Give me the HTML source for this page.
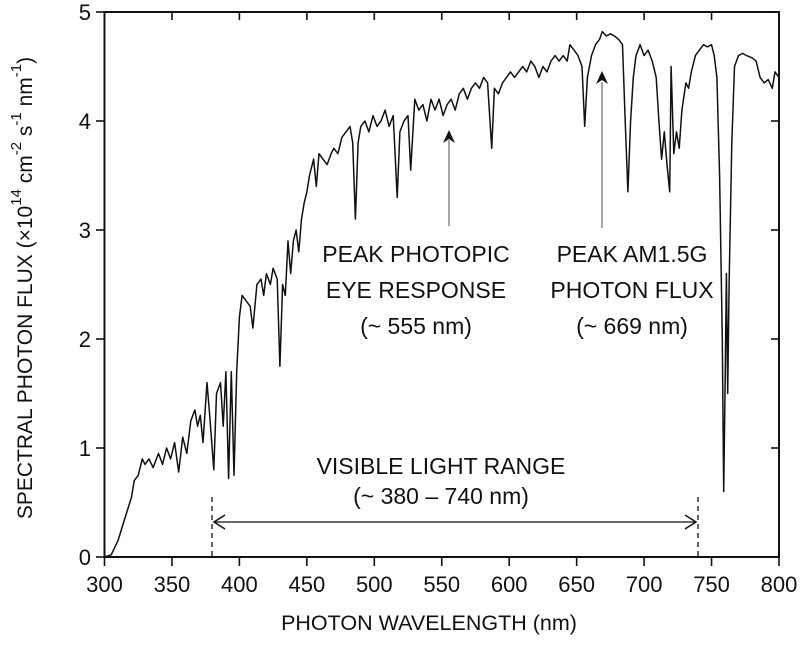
<!DOCTYPE html>
<html><head><meta charset="utf-8"><style>
body{margin:0;background:#fff}
svg text{font-family:"Liberation Sans",Arial,sans-serif;fill:#111}
</style></head><body>
<svg id="s" width="800" height="643" viewBox="0 0 800 643" xmlns="http://www.w3.org/2000/svg">
<rect x="104.5" y="12" width="674.5" height="545" fill="none" stroke="#111" stroke-width="2"/>
<g id="ticks" stroke="#111" stroke-width="1.6"></g>
<g font-size="22" text-anchor="middle" id="xl"></g>
<g font-size="22" text-anchor="end" id="yl"></g>
<text x="429" y="630" font-size="21.5" text-anchor="middle">PHOTON WAVELENGTH (nm)</text>
<text transform="translate(32,288) rotate(-90)" font-size="21" text-anchor="middle">SPECTRAL PHOTON FLUX (×10<tspan dy="-11" font-size="15">14</tspan><tspan dy="11"> cm</tspan><tspan dy="-11" font-size="15">-2</tspan><tspan dy="11"> s</tspan><tspan dy="-11" font-size="15">-1</tspan><tspan dy="11"> nm</tspan><tspan dy="-11" font-size="15">-1</tspan><tspan dy="11">)</tspan></text>
<path id="spec" fill="none" stroke="#111" stroke-width="1.5" stroke-linejoin="round"/>
<g stroke="#888" stroke-width="1.5"><line x1="449" y1="226" x2="449" y2="140"/><line x1="602" y1="228" x2="602" y2="82"/></g>
<polygon points="449,130 443,143 449,139 455,143" fill="#111"/>
<polygon points="602,71 596,84 602,80 608,84" fill="#111"/>
<g font-size="23" text-anchor="middle">
<text x="416" y="262">PEAK PHOTOPIC</text><text x="416" y="298">EYE RESPONSE</text><text x="416" y="334">(~ 555 nm)</text>
<text x="632" y="262">PEAK AM1.5G</text><text x="632" y="298">PHOTON FLUX</text><text x="632" y="334">(~ 669 nm)</text>
<text x="441" y="474">VISIBLE LIGHT RANGE</text><text x="441" y="504">(~ 380 – 740 nm)</text>
</g>
<g stroke="#111" stroke-width="1.3" stroke-dasharray="5,4"><line x1="212" y1="497" x2="212" y2="557"/><line x1="698" y1="497" x2="698" y2="557"/></g>
<line x1="214" y1="522" x2="696" y2="522" stroke="#111" stroke-width="1.3"/>
<polyline points="225,515 214,522 225,529" fill="none" stroke="#111" stroke-width="1.5"/>
<polyline points="685,515 696,522 685,529" fill="none" stroke="#111" stroke-width="1.5"/>
</svg>
<script>
var X=function(n){return 104.5+(n-300)*1.349},Y=function(v){return 557-v*109};
var t=document.getElementById('ticks'),xl=document.getElementById('xl'),yl=document.getElementById('yl'),h='',a='',b='';
for(var n=300;n<=800;n+=50){var x=X(n);h+='<line x1="'+x+'" y1="557" x2="'+x+'" y2="566"/><line x1="'+x+'" y1="12" x2="'+x+'" y2="20"/>';a+='<text x="'+x+'" y="592">'+n+'</text>';}
for(var v=0;v<=5;v++){var y=Y(v);h+='<line x1="96" y1="'+y+'" x2="104.5" y2="'+y+'"/><line x1="771" y1="'+y+'" x2="779" y2="'+y+'"/>';b+='<text x="91" y="'+(y+8)+'">'+v+'</text>';}
t.innerHTML=h;xl.innerHTML=a;yl.innerHTML=b;
var d=[300,0,305,0.02,310,0.15,315,0.35,320,0.55,322,0.7,325,0.75,328,0.9,330,0.85,333,0.9,336,0.82,340,0.95,343,0.85,346,1.0,349,0.9,352,1.05,355,0.78,358,1.1,361,0.95,364,1.25,367,1.35,369,1.2,371,1.3,373,1.05,376,1.6,378,1.3,381,0.8,383,1.5,386,1.6,388,1.2,390,1.7,392,0.72,394,1.7,396,0.75,398,1.7,400,2.2,402,2.4,405,2.35,408,2.3,410,2.1,413,2.5,416,2.55,418,2.4,420,2.6,423,2.5,425,2.65,428,2.55,430,1.75,432,2.5,434,2.4,436,2.9,438,2.6,440,2.9,442,3.0,444,2.8,446,3.1,448,3.25,450,3.35,452,3.5,455,3.65,457,3.4,459,3.7,462,3.65,465,3.6,468,3.7,470,3.75,473,3.7,476,3.85,479,3.9,482,3.95,484,3.8,486,3.1,488,3.8,490,3.95,493,4.0,496,3.9,499,4.05,502,3.95,505,4.0,508,4.1,511,3.95,514,4.05,517,3.3,519,3.9,522,4.0,525,4.05,527,3.55,530,4.2,533,4.1,536,4.15,539,4.0,542,4.2,545,4.1,548,4.2,551,4.05,554,4.15,557,4.2,560,4.1,563,4.25,566,4.3,569,4.2,572,4.3,575,4.35,578,4.3,581,4.4,584,4.35,587,3.75,589,4.3,592,4.25,595,4.35,598,4.4,601,4.45,604,4.4,607,4.45,610,4.5,613,4.45,616,4.55,619,4.5,622,4.4,625,4.5,628,4.45,631,4.55,634,4.6,637,4.55,640,4.6,643,4.55,645,4.7,648,4.65,651,4.6,654,4.5,656,3.95,658,4.4,661,4.6,664,4.7,667,4.75,669,4.82,672,4.78,675,4.8,678,4.78,681,4.75,684,4.7,686,4.0,688,3.35,690,4.0,692,4.4,694,4.6,697,4.7,700,4.6,703,4.65,706,4.55,709,4.4,711,4.0,713,3.65,715,3.9,717,3.6,719,3.35,720,4.5,722,3.7,724,3.9,726,3.75,728,4.1,731,4.35,733,4.3,735,4.45,738,4.6,741,4.65,744,4.7,747,4.68,750,4.7,752,4.6,754,4.4,756,3.5,758,2.0,759,0.6,760,1.5,761,2.6,762,1.5,763,2.5,765,3.8,767,4.5,770,4.6,773,4.62,776,4.6,780,4.58,783,4.55,786,4.4,789,4.35,792,4.38,795,4.3,797,4.45,800,4.4];
var p='';for(var i=0;i<d.length;i+=2){p+=(i?'L':'M')+X(d[i]).toFixed(1)+','+Y(d[i+1]).toFixed(1);}
document.getElementById('spec').setAttribute('d',p);
</script>
</body></html>
